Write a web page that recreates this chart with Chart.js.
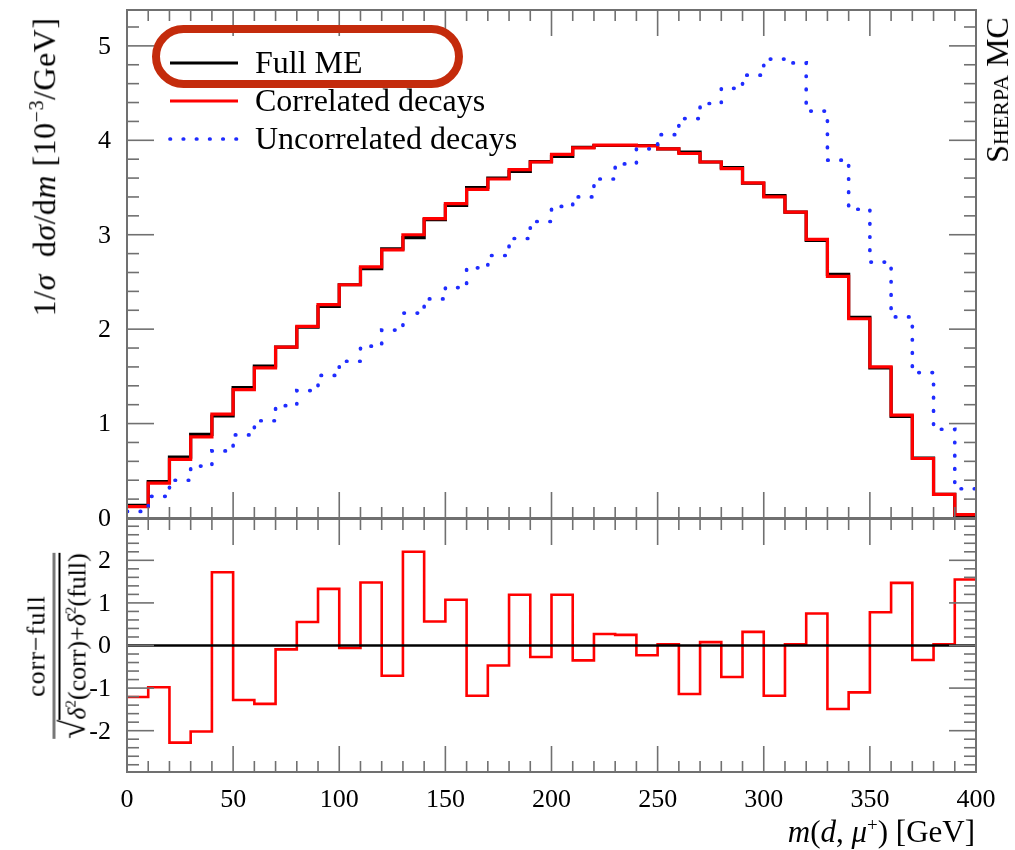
<!DOCTYPE html>
<html><head><meta charset="utf-8">
<script src="https://cdn.jsdelivr.net/npm/chart.js@4/dist/chart.umd.min.js"></script>
<style>
html,body{margin:0;padding:0;background:#fff;}
#wrap{position:relative;width:1015px;height:850px;overflow:hidden;font-family:"Liberation Serif",serif;color:#000;}
canvas{position:absolute;left:0;}
#c1{top:0;}
#c2{top:510px;}
.lbl{position:absolute;white-space:nowrap;line-height:1;}
.rot{transform:translate(-50%,-50%) rotate(-90deg);}
#pill{position:absolute;left:152px;top:25px;width:311px;height:63px;box-sizing:border-box;border:8px solid #c42b0c;border-radius:32px;}
.frac{display:inline-flex;flex-direction:column;align-items:center;}
.num{font-size:26px;letter-spacing:1px;padding-bottom:3px;}
.bar{width:100%;border-top:3px solid #777;}
.den{font-size:26px;display:flex;align-items:flex-start;}
.den .sq{font-size:35px;line-height:1;}
.den .ov{border-top:2px solid #000;padding-top:3px;margin-top:3px;}
</style></head><body>
<div id="wrap">
<canvas id="c1" width="1015" height="540"></canvas>
<canvas id="c2" width="1015" height="340"></canvas>
<div id="pill"></div>
<div class="lbl rot" style="left:43px;top:167px;font-size:32px;letter-spacing:0.5px;">1/<i>σ</i>&nbsp; d<i>σ</i>/d<i>m</i> [10<sup style="font-size:20px">−3</sup>/GeV]</div>
<div class="lbl rot" style="left:57px;top:646px;"><div class="frac"><div class="num">corr−full</div><div class="bar"></div><div class="den"><span class="sq">√</span><span class="ov"><i>δ</i><sup style="font-size:15px">2</sup>(corr)+<i>δ</i><sup style="font-size:15px">2</sup>(full)</span></div></div></div>
<div class="lbl rot" style="left:997px;top:90px;font-size:32px;font-variant:small-caps;">Sherpa MC</div>
<div class="lbl" style="right:40px;top:815px;font-size:31px;"><i>m</i>(<i>d</i>, <i>μ</i><sup style="font-size:19px">+</sup>) [GeV]</div>
</div>
<script>
const binLow = [0,10,20,30,40,50,60,70,80,90,100,110,120,130,140,150,160,170,180,190,
                200,210,220,230,240,250,260,270,280,290,300,310,320,330,340,350,360,370,380,390];
const xMaxEdge = 400;
const fullME = [0.135,0.385,0.645,0.885,1.08,1.38,1.61,1.81,2.02,2.24,2.47,2.64,2.85,2.97,3.16,3.31,3.50,3.60,3.67,3.775,
                3.83,3.925,3.945,3.945,3.945,3.91,3.875,3.77,3.71,3.545,3.415,3.24,2.94,2.58,2.125,1.59,1.075,0.635,0.25,0.025];
const correlated = [0.12,0.37,0.62,0.86,1.10,1.36,1.59,1.81,2.03,2.26,2.47,2.66,2.84,3.00,3.17,3.33,3.48,3.59,3.69,3.77,
                3.85,3.92,3.95,3.95,3.94,3.91,3.86,3.77,3.70,3.55,3.40,3.24,2.95,2.56,2.11,1.60,1.09,0.63,0.25,0.035];
const uncorrelated = [0.07,0.23,0.40,0.55,0.71,0.88,1.03,1.19,1.35,1.51,1.66,1.82,1.99,2.17,2.32,2.44,2.65,2.78,2.96,3.14,
                3.30,3.40,3.59,3.75,3.91,4.06,4.23,4.39,4.55,4.69,4.86,4.82,4.31,3.79,3.27,2.71,2.13,1.54,0.94,0.31];
const pull = [-1.21,-0.98,-2.28,-2.02,1.72,-1.28,-1.37,-0.09,0.55,1.33,-0.06,1.48,-0.71,2.20,0.565,1.075,-1.18,-0.47,1.19,-0.27,
              1.19,-0.35,0.27,0.25,-0.23,0.03,-1.14,0.08,-0.74,0.32,-1.18,0.03,0.75,-1.49,-1.10,0.78,1.47,-0.34,0.03,1.55];
const zeroLine = [0,0];
const xTicks = [0,50,100,150,200,250,300,350,400];
const topYTicks = [0,1,2,3,4,5];
const botYTicks = [-2,-1,0,1,2];
const legendLabels = ['Full ME','Correlated decays','Uncorrelated decays'];

function hist(vals){
  const pts = binLow.map((x,i)=>({x:x,y:vals[i]}));
  pts.push({x:xMaxEdge,y:vals[vals.length-1]});
  return pts;
}
const FONT = '"Liberation Serif", serif';
const frameTicks = {
  id:'frameTicks',
  afterDatasetsDraw(chart, args, o){
    const {ctx, chartArea:a, scales:{x,y}} = chart;
    ctx.save();
    ctx.strokeStyle = '#707070';
    ctx.lineWidth = 1.6;
    const ln=(x1,y1,x2,y2)=>{ctx.beginPath();ctx.moveTo(x1,y1);ctx.lineTo(x2,y2);ctx.stroke();};
    for(let k=0;k<=Math.round((x.max-x.min)/o.xMinor);k++){
      const v = x.min + k*o.xMinor;
      const px = x.getPixelForValue(v);
      const major = Math.abs(v/o.xMajor-Math.round(v/o.xMajor))<1e-6;
      const L = major?26:11;
      ln(px,a.top,px,a.top+L); ln(px,a.bottom,px,a.bottom-L);
    }
    const start = Math.ceil(y.min/o.yMinor-1e-9);
    const end = Math.floor(y.max/o.yMinor+1e-9);
    for(let k=start;k<=end;k++){
      const v = k*o.yMinor;
      const py = y.getPixelForValue(v);
      const major = Math.abs(v/o.yMajor-Math.round(v/o.yMajor))<1e-6;
      const L = major?27:12;
      ln(a.left,py,a.left+L,py); ln(a.right,py,a.right-L,py);
    }
    ctx.lineWidth = 2;
    ctx.strokeRect(a.left,a.top,a.right-a.left,a.bottom-a.top);
    ctx.fillStyle = '#000';
    ctx.font = '26px ' + FONT;
    ctx.textAlign = 'right'; ctx.textBaseline = 'middle';
    (o.yLabels||[]).forEach(v=>{ ctx.fillText(String(v), a.left-16, y.getPixelForValue(v)+1); });
    ctx.textAlign = 'center'; ctx.textBaseline = 'middle';
    (o.xLabels||[]).forEach(v=>{ ctx.fillText(String(v), x.getPixelForValue(v), a.bottom+28); });
    ctx.restore();
  }
};
const legendPlugin = {
  id:'legendBox',
  afterDraw(chart){
    const {ctx, chartArea:a} = chart;
    const order = [2,1,0];
    order.forEach((di,i)=>{
      const ds = chart.data.datasets[di];
      const y = a.top + 53 + i*38;
      ctx.save();
      ctx.strokeStyle = ds.borderColor; ctx.lineWidth = ds.borderWidth;
      ctx.setLineDash(ds.borderDash||[]); ctx.lineCap = ds.borderCapStyle||'butt';
      ctx.beginPath(); ctx.moveTo(a.left+43,y); ctx.lineTo(a.left+111,y); ctx.stroke();
      ctx.setLineDash([]);
      ctx.fillStyle='#000'; ctx.font='32px '+FONT; ctx.textBaseline='alphabetic';
      ctx.fillText(legendLabels[i], a.left+128, y+10);
      ctx.restore();
    });
  }
};
const common = {
  responsive:false, animation:false, events:[],
  plugins:{legend:{display:false}, tooltip:{enabled:false}},
  elements:{point:{radius:0}, line:{tension:0, stepped:'before', fill:false}}
};
new Chart(document.getElementById('c1'), {
  type:'line',
  data:{datasets:[
    {label:legendLabels[2], data:hist(uncorrelated), borderColor:'#1f2cff', borderWidth:3.7, borderDash:[0.5,12.7], borderCapStyle:'round'},
    {label:legendLabels[1], data:hist(correlated), borderColor:'#ff0000', borderWidth:3.2},
    {label:legendLabels[0], data:hist(fullME), borderColor:'#000000', borderWidth:3.2}
  ]},
  options:Object.assign({}, common, {
    layout:{padding:{top:10,right:39,bottom:22,left:127}},
    scales:{
      x:{type:'linear', min:0, max:400, display:false},
      y:{type:'linear', min:0, max:5.38, display:false}
    },
    plugins:Object.assign({}, common.plugins, {frameTicks:{xMinor:10,xMajor:50,yMinor:0.2,yMajor:1,yLabels:topYTicks}})
  }),
  plugins:[frameTicks, legendPlugin]
});
new Chart(document.getElementById('c2'), {
  type:'line',
  data:{datasets:[
    {label:'zero', data:[{x:0,y:zeroLine[0]},{x:400,y:zeroLine[1]}], borderColor:'#000', borderWidth:2.6, stepped:false},
    {label:'pull', data:hist(pull), borderColor:'#ff0000', borderWidth:2.6}
  ]},
  options:Object.assign({}, common, {
    layout:{padding:{top:9,right:39,bottom:78,left:127}},
    scales:{
      x:{type:'linear', min:0, max:400, display:false},
      y:{type:'linear', min:-2.97, max:2.97, display:false}
    },
    plugins:Object.assign({}, common.plugins, {frameTicks:{xMinor:10,xMajor:50,yMinor:0.2,yMajor:1,yLabels:botYTicks,xLabels:xTicks}})
  }),
  plugins:[frameTicks]
});
</script>
</body></html>
